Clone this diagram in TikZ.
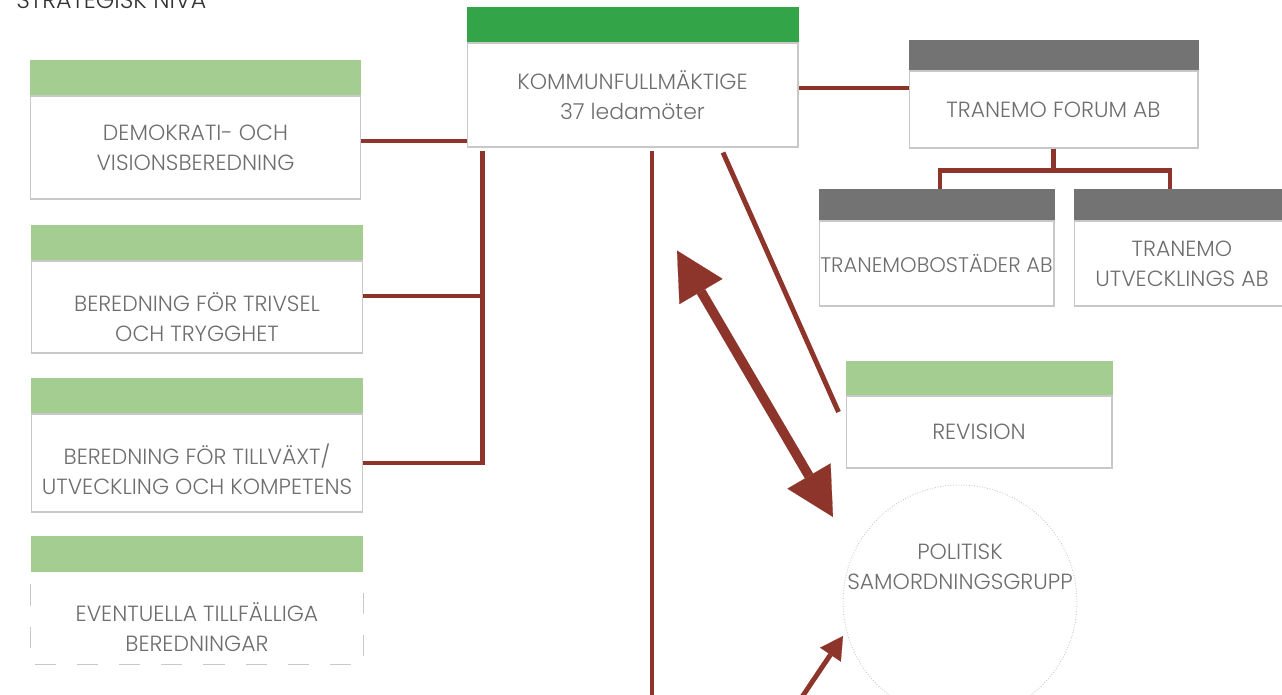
\documentclass[tikz,border=0pt]{standalone}
\usepackage{fontspec}
\setmainfont{Poppins Light}
\usetikzlibrary{arrows.meta,calc}

\definecolor{kfgreen}{HTML}{34A448}
\definecolor{lightgreen}{HTML}{A3CD91}
\definecolor{bargray}{HTML}{737373}
\definecolor{boxgray}{HTML}{C8C8C8}
\definecolor{textgray}{HTML}{6E6E6E}
\definecolor{titlegray}{HTML}{333333}
\definecolor{linered}{HTML}{8E352B}

\tikzset{
  orgbox/.style={draw=boxgray, line width=0.6pt, fill=white, align=center, text=textgray, inner sep=0pt, font=\fontsize{12.5}{17}\selectfont},
  conn/.style={draw=linered, line width=2.8pt, line join=miter},
  polcircle/.style={circle, draw=boxgray, densely dotted, line width=0.5pt, fill=white, inner sep=0pt, minimum size=4.68cm}
}
\newcommand{\topbar}[3]{\fill[#1] (#2.north west) rectangle ($(#2.north east)+(0,-#3)$);}
\newcommand{\lowerby}[1]{\rule{0pt}{#1}}

\begin{document}
\begin{tikzpicture}[x=0.02cm, y=-0.02cm]
			%%%%% START %%%%%
			\useasboundingbox (0,0) rectangle (1282,694);
			\fill[white] (0,0) rectangle (1282,694);
			
			\node[anchor=base west, inner sep=0pt, text=titlegray, font=\fontsize{13.5}{16}\selectfont] (title) at (16,8) {STRATEGISK NIVÅ};
			
			% kommunfullmaktige
			\node[orgbox, minimum width=6.62cm, minimum height=2.08cm] (kf) at (632.5,95) {KOMMUNFULLMÄKTIGE\\37 ledamöter};
			\topbar{kfgreen}{kf}{35}
			
			% beredningar
			\node[orgbox, minimum width=6.62cm, minimum height=2.06cm] (dem) at (195.5,147.5) {DEMOKRATI- OCH\\VISIONSBEREDNING};
			\topbar{lightgreen}{dem}{35}
			\node[orgbox, minimum width=6.64cm, minimum height=1.84cm] (triv) at (197,307) {\lowerby{22pt}BEREDNING FÖR TRIVSEL\\OCH TRYGGHET};
			\topbar{lightgreen}{triv}{35}
			\node[orgbox, minimum width=6.64cm, minimum height=1.96cm] (till) at (197,463) {\lowerby{19pt}BEREDNING FÖR TILLVÄXT/\\UTVECKLING OCH KOMPETENS};
			\topbar{lightgreen}{till}{35}
			\node[orgbox, draw=none, minimum width=6.64cm, minimum height=1.82cm] (event) at (197,618.5) {\lowerby{21pt}EVENTUELLA TILLFÄLLIGA\\BEREDNINGAR};
			\draw[boxgray, line width=0.6pt, dash pattern=on 12pt off 12pt] ($(event.north west)+(0,12)$) -- (event.south west) -- (event.south east) -- (event.north east);
			\topbar{lightgreen}{event}{36}
			
			% bolag
			\node[orgbox, minimum width=5.78cm, minimum height=1.54cm] (forum) at (1053.5,109.5) {TRANEMO FORUM AB};
			\topbar{bargray}{forum}{30}
			\node[orgbox, minimum width=4.7cm, minimum height=1.7cm, font=\fontsize{12}{17}\selectfont] (bost) at (936.5,263.5) {TRANEMOBOSTÄDER AB};
			\topbar{bargray}{bost}{31}
			\node[orgbox, minimum width=4.32cm, minimum height=1.7cm] (utv) at (1182,263.5) {TRANEMO\\UTVECKLINGS AB};
			\topbar{bargray}{utv}{31}
			
			\node[orgbox, minimum width=5.32cm, minimum height=1.44cm] (rev) at (979,432) {REVISION};
			\topbar{lightgreen}{rev}{34}
			
			\node[polcircle] (pol) at (960,602) {};
			\node[orgbox, draw=none, fill=none] (poltext) at ($(pol.center)+(0,-35)$) {POLITISK\\SAMORDNINGSGRUPP};
			
			% linjer vanster
			\coordinate (bus) at ($(kf.south west)+(16,3)$);
			\coordinate (demc) at ($(dem.east)+(0,-6.5)$);
			\coordinate (trivc) at ($(triv.east)+(0,-11)$);
			\draw[conn] (demc) -- (demc -| kf.west);
			\draw[conn] (bus) |- (till.east);
			\draw[conn] (trivc) -- (trivc -| bus);
			
			% linjer bolag
			\coordinate (forumc) at ($(forum.west)+(0,-21.5)$);
			\coordinate (split) at ($(forum.south)+(0,22)$);
			\draw[conn] (forumc) -- (forumc -| kf.east);
			\draw[conn] (forum.south) -- (split);
			\draw[conn] ($(bost.north)+(3.5,-31)$) |- (split) -| ($(utv.north)+(-12,-31)$);
			
			% kf nedat och revision
			\coordinate (kfdown) at ($(kf.south)+(19.5,3)$);
			\draw[conn] (kfdown) -- ++(0,560);
			\coordinate (kfrev) at ($(kf.south)+(90.5,5)$);
			\coordinate (revend) at ($(rev.west)+(-7,-20)$);
			\draw[conn] (kfrev) -- (revend);
			
			% pilar
			\coordinate (ktip) at ($(kf.south)+(44.5,103)$);
			\coordinate (ptip) at ($(pol.center)+(-127,-85)$);
			\draw[linered, line width=5.5pt, {Triangle[length=0.95cm,width=1.0cm,line width=0.1pt]}-{Triangle[length=0.95cm,width=1.0cm,line width=0.1pt]}] (ktip) -- (ptip);
			\coordinate (pfoot) at ($(pol.center)+(-160,98)$);
			\coordinate (pin) at ($(pol.center)+(-117,34)$);
			\draw[linered, line width=2.8pt, -{Triangle[length=0.45cm,width=0.5cm,line width=0.1pt]}] (pfoot) -- (pin);
			%%%%% END %%%%%
\end{tikzpicture}
\end{document}
